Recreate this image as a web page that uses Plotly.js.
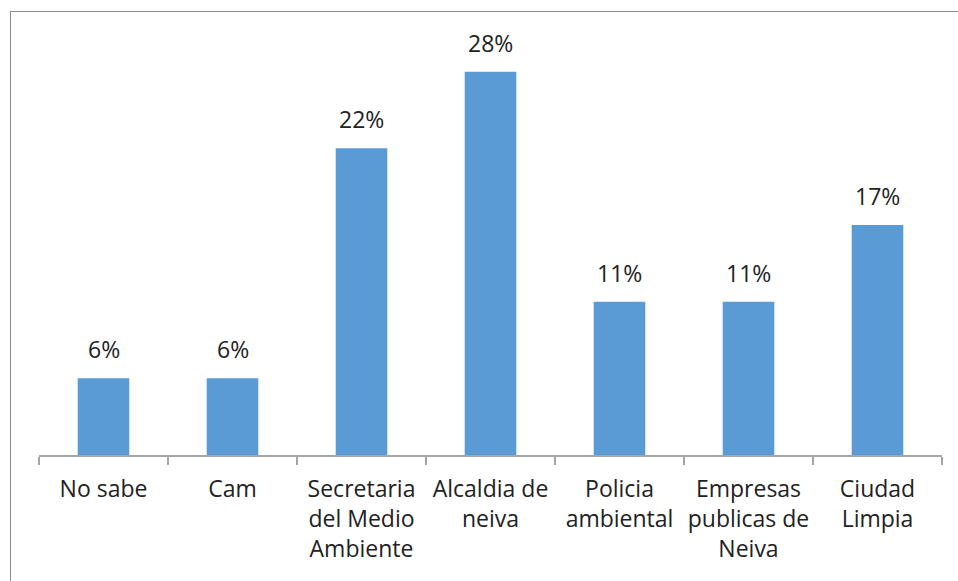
<!DOCTYPE html>
<html>
<head>
<meta charset="utf-8">
<script src="https://cdn.plot.ly/plotly-3.0.1.min.js"></script>
<style>
  html, body { margin: 0; padding: 0; background: #fff; }
  #wrap { position: relative; width: 958px; height: 581px; overflow: hidden; }
  #chart { position: absolute; left: 0; top: 0; width: 958px; height: 581px; }
  #frame { position: absolute; left: 10px; top: 11px; width: 1000px; height: 700px;
           border-left: 1.5px solid #8c8c8c; border-top: 1.5px solid #8c8c8c; pointer-events: none; }
</style>
</head>
<body>
<div id="wrap">
  <div id="chart"></div>
  <div id="frame"></div>
</div>
<script>
const categories = ["No sabe", "Cam", "Secretaria<br>del Medio<br>Ambiente", "Alcaldia de<br>neiva",
                    "Policia<br>ambiental", "Empresas<br>publicas de<br>Neiva", "Ciudad<br>Limpia"];
const values = [5.56, 5.56, 22.22, 27.78, 11.11, 11.11, 16.67];
const labels = ["6%", "6%", "22%", "28%", "11%", "11%", "17%"];

const fontFam = "'Open Sans', 'DejaVu Sans', sans-serif";

const trace = {
  type: "bar",
  x: categories,
  y: values,
  marker: { color: "#5B9BD5" },
  width: 0.4,
  hoverinfo: "none"
};

const annotations = categories.map((c, i) => ({
  x: c, y: values[i], xref: "x", yref: "y",
  text: labels[i], showarrow: false,
  yanchor: "bottom", yshift: 11,
  font: { family: fontFam, size: 23, color: "#222" }
}));

const layout = {
  width: 958, height: 581,
  margin: { l: 39, r: 16, t: 41, b: 126 },
  paper_bgcolor: "#fff", plot_bgcolor: "#fff",
  showlegend: false,
  xaxis: {
    type: "category",
    range: [-0.5, 6.5],
    showline: true, linecolor: "#a6a6a6", linewidth: 1.5,
    ticks: "outside", tickson: "boundaries", ticklen: 8, tickcolor: "#a6a6a6", tickwidth: 1.5,
    ticklabelstandoff: 13, tickangle: 0,
    tickfont: { family: fontFam, size: 23, color: "#222" },
    showgrid: false, zeroline: false, fixedrange: true
  },
  yaxis: {
    range: [0, 30],
    visible: false, showgrid: false, zeroline: false, fixedrange: true
  },
  annotations: annotations
};

Plotly.newPlot("chart", [trace], layout, { displayModeBar: false, staticPlot: true });
</script>
</body>
</html>
